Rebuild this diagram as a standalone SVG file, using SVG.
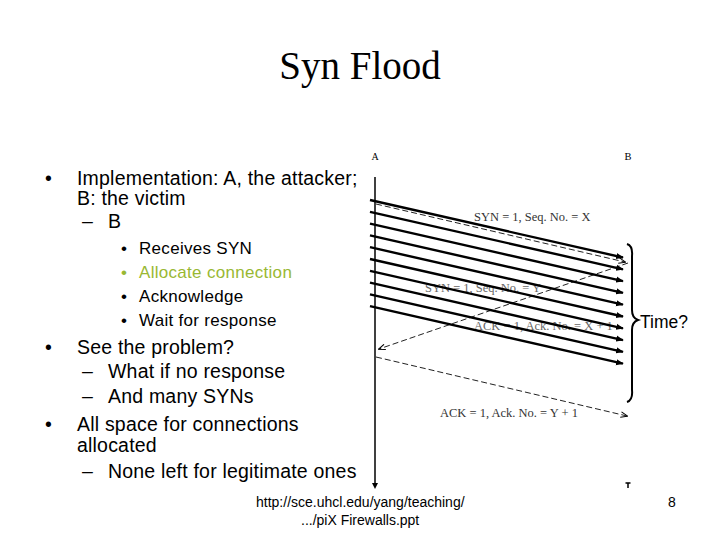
<svg xmlns="http://www.w3.org/2000/svg" width="720" height="540" viewBox="0 0 720 540">
<style>
.t{font-family:"Liberation Sans",Arial,sans-serif;fill:#000}
.m{font-size:19.5px;letter-spacing:0.2px}
.n{font-size:17px;letter-spacing:0.3px}
.s{font-family:"Liberation Serif","Times New Roman",serif}
.arr{stroke:#000;stroke-width:2.4;fill:none;marker-end:url(#ah)}
.dash{stroke:#222;stroke-width:1;stroke-dasharray:6 3;fill:none}
.lbl{font-family:"Liberation Serif","Times New Roman",serif;font-size:12.5px}
</style>
<defs>
<marker id="ah" viewBox="0 0 10 10" refX="9" refY="5" markerWidth="3.2" markerHeight="3.2" orient="auto" markerUnits="strokeWidth">
<path d="M0,1 L10,5 L0,9 Z" fill="#000"/>
</marker>
<marker id="ahd" viewBox="0 0 10 10" refX="9" refY="5" markerWidth="8" markerHeight="7" orient="auto" markerUnits="userSpaceOnUse">
<path d="M0,1 L10,5 L0,9" fill="none" stroke="#000" stroke-width="1.5"/>
</marker>
</defs>
<rect width="720" height="540" fill="#fff"/>
<text class="s" x="360" y="79" font-size="39" text-anchor="middle">Syn Flood</text>

<g id="bullets" class="t">
<text class="m" x="45" y="185">•</text>
<text class="m" x="77" y="185">Implementation: A, the attacker;</text>
<text class="m" x="77" y="205">B: the victim</text>
<text class="m" x="82" y="228">–</text>
<text class="m" x="108" y="228">B</text>
<text class="n" x="121" y="254">•</text>
<text class="n" x="139" y="254">Receives SYN</text>
<text class="n" x="121" y="278" style="fill:#99b833">•</text>
<text class="n" x="139" y="278" style="fill:#99b833">Allocate connection</text>
<text class="n" x="121" y="302">•</text>
<text class="n" x="139" y="302">Acknowledge</text>
<text class="n" x="121" y="326">•</text>
<text class="n" x="139" y="326">Wait for response</text>
<text class="m" x="45" y="354">•</text>
<text class="m" x="77" y="354">See the problem?</text>
<text class="m" x="82" y="378">–</text>
<text class="m" x="108" y="378">What if no response</text>
<text class="m" x="82" y="403">–</text>
<text class="m" x="108" y="403">And many SYNs</text>
<text class="m" x="45" y="431">•</text>
<text class="m" x="77" y="431">All space for connections</text>
<text class="m" x="77" y="452">allocated</text>
<text class="m" x="82" y="478">–</text>
<text class="m" x="108" y="478">None left for legitimate ones</text>
</g>

<g id="nodeA">
<text class="s" x="375" y="160" font-size="10" text-anchor="middle">A</text>
<line x1="375" y1="177" x2="375" y2="485" stroke="#000" stroke-width="1.5"/>
<path d="M372,483 L375,489 L378,483 Z" fill="#000"/>
</g>
<g id="nodeB">
<text class="s" x="628" y="160" font-size="10.5" text-anchor="middle">B</text>
<path d="M625.5,483 L630.5,483 M628,483 L628,488" stroke="#000" stroke-width="1.5"/>
</g>

<g id="labels">
<text class="lbl" x="474" y="221" style="fill:#333">SYN = 1, Seq. No. = X</text>
<text class="lbl" x="425" y="292" style="fill:#666">SYN = 1, Seq. No. = Y</text>
<text class="lbl" x="474" y="330" style="fill:#666">ACK = 1, Ack. No. = X + 1</text>
<text class="lbl" x="440" y="417" style="fill:#333">ACK = 1, Ack. No. = Y + 1</text>
</g>

<g id="connectors">
<line class="dash" x1="376" y1="204" x2="625" y2="262" marker-end="url(#ahd)"/>
<line class="dash" x1="628" y1="263" x2="379" y2="349" marker-end="url(#ahd)"/>
<line class="dash" x1="376" y1="357" x2="627" y2="416" marker-end="url(#ahd)"/>
<line class="arr" x1="370" y1="200" x2="623" y2="257.5"/>
<line class="arr" x1="370" y1="211.8" x2="623" y2="269.3"/>
<line class="arr" x1="370" y1="223.6" x2="623" y2="281.1"/>
<line class="arr" x1="370" y1="235.4" x2="623" y2="292.9"/>
<line class="arr" x1="370" y1="247.2" x2="623" y2="304.7"/>
<line class="arr" x1="370" y1="259" x2="623" y2="316.5"/>
<line class="arr" x1="370" y1="270.8" x2="623" y2="328.3"/>
<line class="arr" x1="370" y1="282.6" x2="623" y2="340.1"/>
<line class="arr" x1="370" y1="294.4" x2="623" y2="351.9"/>
<line class="arr" x1="370" y1="306.2" x2="623" y2="363.7"/>
</g>

<g id="brace">
<path d="M627,244 Q633,246 632,256 L632,310 Q632,318 638,320 Q632,322 632,330 L632,390 Q633,400 627,402" fill="none" stroke="#000" stroke-width="2"/>
<text class="t" x="640" y="328" font-size="17.5">Time?</text>
</g>

<g id="footer" class="t">
<text x="256" y="507" font-size="14">http://sce.uhcl.edu/yang/teaching/</text>
<text x="301" y="525" font-size="14">.../piX Firewalls.ppt</text>
<text x="668" y="507" font-size="14">8</text>
</g>
</svg>
